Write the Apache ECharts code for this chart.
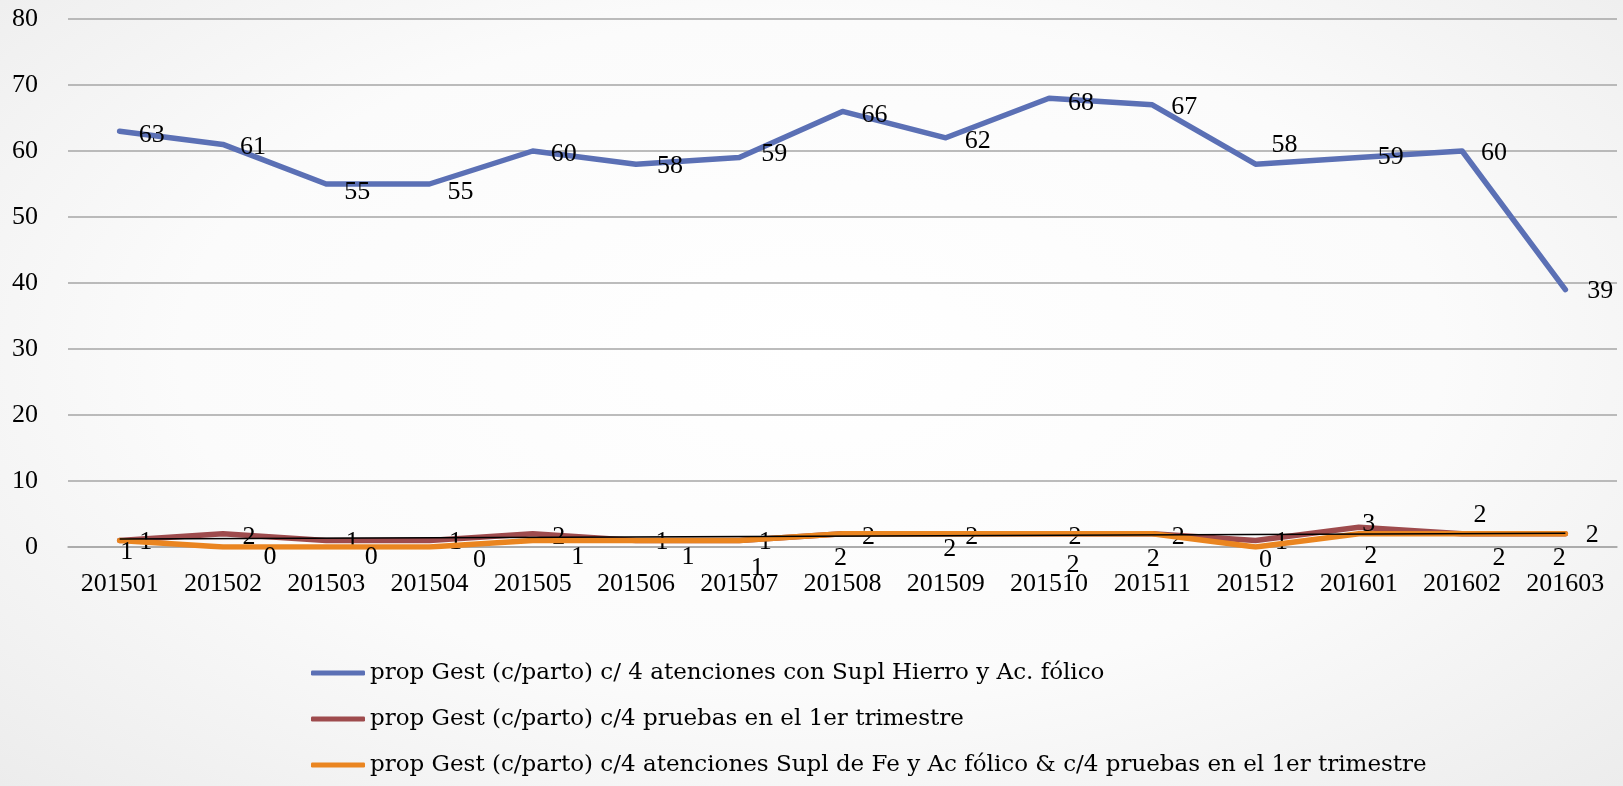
<!DOCTYPE html>
<html>
<head>
<meta charset="utf-8">
<script src="https://cdn.jsdelivr.net/npm/echarts@6/dist/echarts.min.js"></script>
<style>
  html, body { margin: 0; padding: 0; }
  body {
    width: 1623px; height: 786px;
    background: radial-gradient(ellipse at 50% 45%, #ffffff 0%, #fbfbfb 55%, #ececec 100%);
  }
  #chart { width: 1623px; height: 786px; }
</style>
</head>
<body>
<div id="chart"></div>
<script>
// categorias (año-mes)
const months = ['201501', '201502', '201503', '201504', '201505', '201506', '201507', '201508',
  '201509', '201510', '201511', '201512', '201601', '201602', '201603'];

const serieHierro = [63, 61, 55, 55, 60, 58, 59, 66, 62, 68, 67, 58, 59, 60, 39];
const seriePruebas = [1, 2, 1, 1, 2, 1, 1, 2, 2, 2, 2, 1, 3, 2, 2];
const serieAmbas = [1, 0, 0, 0, 1, 1, 1, 2, 2, 2, 2, 0, 2, 2, 2];

// linea de tendencia (extremos)
const trendStart = 1.2;
const trendEnd = 2.1;

const seriesNames = [
  'prop Gest (c/parto) c/ 4 atenciones con Supl Hierro y Ac. fólico',
  'prop Gest (c/parto) c/4 pruebas en el 1er trimestre',
  'prop Gest (c/parto) c/4 atenciones Supl de Fe y Ac fólico & c/4 pruebas en el 1er trimestre'
];

const yTicks = { min: 0, max: 80, interval: 10 };

// desplazamiento de cada etiqueta respecto a su punto (como en el original de Excel)
const offHierro = [[32, 4], [30, 3], [31, 8], [31, 8], [31, 3], [34, 2], [35, -3], [32, 4],
  [32, 3], [32, 5], [32, 2], [29, -19], [32, 0], [32, 2], [35, 2]];
const offPruebas = [[26, 2], [26, 3], [26, 2], [26, 2], [26, 3], [26, 2], [26, 2], [26, 3],
  [26, 3], [26, 3], [26, 3], [26, 2], [10, -3], [18, -19], [27, 1]];
const offAmbas = [[7, 12], [47, 10], [45, 10], [50, 13], [45, 17], [52, 17], [18, 28], [-2, 24],
  [4, 15], [24, 31], [1, 25], [10, 13], [12, 22], [37, 24], [-6, 24]];

const numFont = '"Liberation Serif", "DejaVu Serif", serif';
const legendFont = '"DejaVu Serif", "Liberation Serif", serif';
const chart = echarts.init(document.getElementById('chart'));

const trendData = months.map((m, i) => i === 0 ? trendStart : (i === months.length - 1 ? trendEnd : null));

const withLabels = (values, offsets) => values.map((v, i) => ({ value: v, label: { offset: offsets[i] } }));

const labelStyle = { show: true, position: 'inside', color: '#000', fontSize: 26, fontFamily: numFont };

chart.setOption({
  backgroundColor: 'transparent',
  animation: false,
  grid: { left: 68, right: 6, top: 19, bottom: 239 },
  xAxis: {
    type: 'category',
    data: months,
    boundaryGap: true,
    axisLine: { show: true, lineStyle: { color: '#a6a6a6', width: 1.5 } },
    axisTick: { show: false },
    axisLabel: { color: '#000', fontSize: 26, fontFamily: numFont, margin: 24 }
  },
  yAxis: {
    type: 'value',
    min: yTicks.min,
    max: yTicks.max,
    interval: yTicks.interval,
    axisLine: { show: false },
    axisTick: { show: false },
    axisLabel: { color: '#000', fontSize: 26, fontFamily: numFont, margin: 30 },
    splitLine: { lineStyle: { color: '#a6a6a6', width: 1.5 } }
  },
  legend: {
    orient: 'vertical',
    left: 306,
    top: 656,
    itemGap: 22,
    itemWidth: 54,
    itemHeight: 5,
    icon: 'roundRect',
    data: seriesNames,
    textStyle: { color: '#000', fontSize: 23, fontFamily: legendFont, lineHeight: 24 }
  },
  series: [
    {
      name: seriesNames[0],
      type: 'line',
      data: withLabels(serieHierro, offHierro),
      symbol: 'circle',
      symbolSize: 0,
      color: '#5b70b5',
      lineStyle: { width: 5.5, cap: 'round', join: 'round' },
      label: labelStyle,
      z: 3
    },
    {
      name: seriesNames[1],
      type: 'line',
      data: withLabels(seriePruebas, offPruebas),
      symbol: 'circle',
      symbolSize: 0,
      color: '#9e4b4d',
      lineStyle: { width: 5.5, cap: 'round', join: 'round' },
      label: labelStyle,
      z: 2
    },
    {
      name: seriesNames[2],
      type: 'line',
      data: withLabels(serieAmbas, offAmbas),
      symbol: 'circle',
      symbolSize: 0,
      color: '#ea8520',
      lineStyle: { width: 5.5, cap: 'round', join: 'round' },
      label: labelStyle,
      z: 3
    },
    {
      name: 'tendencia',
      type: 'line',
      data: trendData,
      connectNulls: true,
      symbol: 'none',
      color: '#000',
      lineStyle: { width: 1.5 },
      silent: true,
      z: 4
    }
  ]
});
</script>
</body>
</html>
